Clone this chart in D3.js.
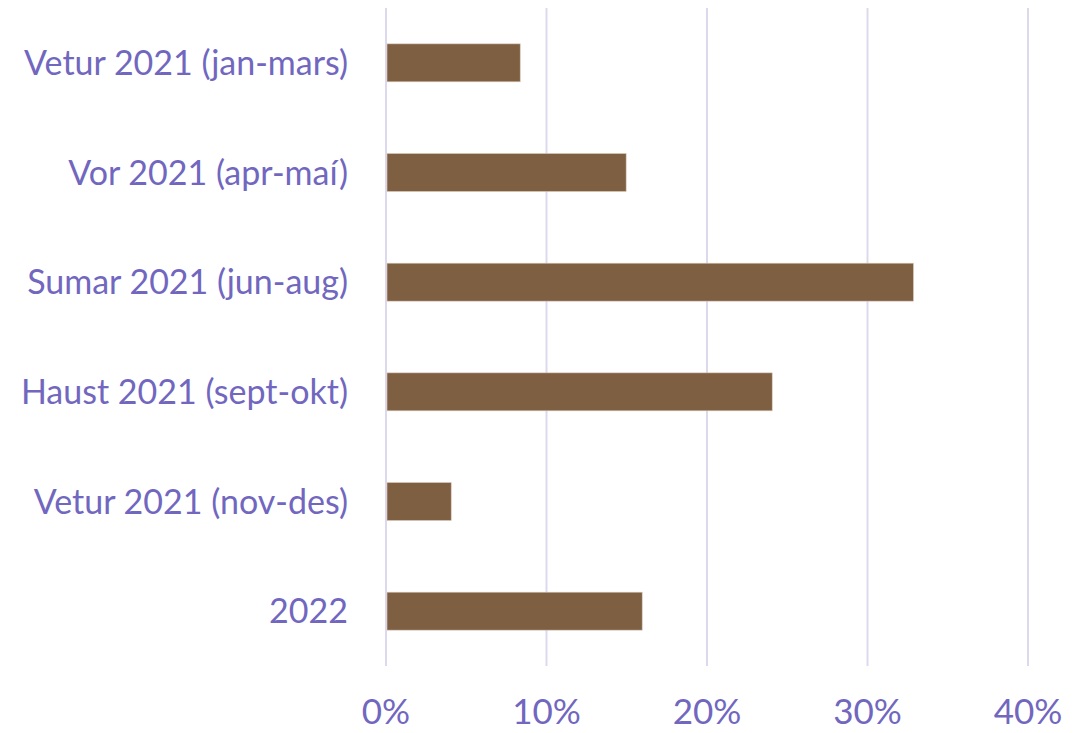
<!DOCTYPE html>
<html>
<meta charset="utf-8">
<style>
body { margin: 0; background: #fff; }
text { font-family: Lato, sans-serif; fill: #7167bf; }
</style>
<script src="https://d3js.org/d3.v7.min.js"></script>
<body>
<div id="chart"></div>
<script>
var categories = ["Vetur 2021 (jan-mars)", "Vor 2021 (apr-maí)", "Sumar 2021 (jun-aug)",
                  "Haust 2021 (sept-okt)", "Vetur 2021 (nov-des)", "2022"];
var values = [0.083, 0.149, 0.328, 0.240, 0.040, 0.159];
var ticks = [0, 0.1, 0.2, 0.3, 0.4];

var width = 1091, height = 733;
var margin = { top: 8, right: 63, bottom: 67, left: 386 };

var svg = d3.select("#chart").append("svg")
    .attr("width", width)
    .attr("height", height);

var x = d3.scaleLinear()
    .domain([0, 0.4])
    .range([margin.left, width - margin.right]);

var y = d3.scaleBand()
    .domain(categories)
    .range([margin.top, height - margin.bottom])
    .paddingInner(0.654)
    .paddingOuter(0.327);

// gridlines
svg.append("g")
    .selectAll("line")
    .data(ticks)
    .enter()
    .append("line")
    .attr("x1", d => x(d)).attr("x2", d => x(d))
    .attr("y1", margin.top).attr("y2", height - margin.bottom)
    .attr("stroke", "#dcd9ef")
    .attr("stroke-width", 2);

// bars
svg.append("g")
    .selectAll("rect")
    .data(values)
    .enter()
    .append("rect")
    .attr("x", x(0) + 1)
    .attr("y", (d, i) => y(categories[i]))
    .attr("width", d => x(d) - x(0))
    .attr("height", y.bandwidth())
    .attr("fill", "#7f5f42")
    .attr("stroke", "#d9c8b8")
    .attr("stroke-width", 0.6);

// category labels
svg.append("g")
    .selectAll("text")
    .data(categories)
    .enter()
    .append("text")
    .attr("x", margin.left - 38)
    .attr("y", d => y(d) + y.bandwidth() / 2)
    .attr("dy", "0.36em")
    .attr("text-anchor", "end")
    .style("font-size", "34px")
    .text(d => d);

// tick labels
svg.append("g")
    .selectAll("text")
    .data(ticks)
    .enter()
    .append("text")
    .attr("x", d => x(d))
    .attr("y", 724)
    .attr("text-anchor", "middle")
    .style("font-size", "35px")
    .text(d => d3.format(".0%")(d));
</script>
</body>
</html>
